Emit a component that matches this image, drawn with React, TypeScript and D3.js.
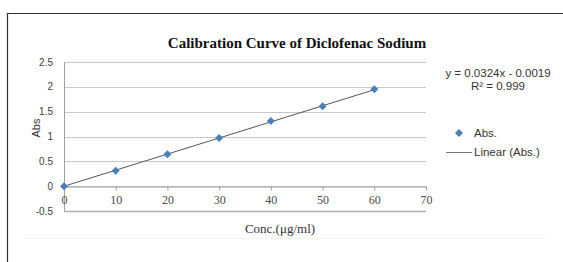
import React, { useRef, useEffect } from "react";
import * as d3 from "d3";

const concentrations = [0, 10, 20, 30, 40, 50, 60];
const absorbances = [0, 0.31, 0.645, 0.97, 1.31, 1.61, 1.95];
const xTicks = [0, 10, 20, 30, 40, 50, 60, 70];
const yTicks = [-0.5, 0, 0.5, 1, 1.5, 2, 2.5];
const slope = 0.0324;
const intercept = -0.0019;

const W = 563;
const H = 262;

const App: React.FC = () => {
  const ref = useRef<SVGSVGElement | null>(null);

  useEffect(() => {
    const root = d3.select(ref.current);
    root.selectAll("*").remove();

    const sans = "'Liberation Sans', Arial, sans-serif";
    const serif = "'Liberation Serif', 'Times New Roman', serif";

    // outer frame (top + left only visible)
    root
      .append("path")
      .attr("d", `M7.5,${H} L7.5,13.5 L${W},13.5`)
      .attr("fill", "none")
      .attr("stroke", "#333")
      .attr("stroke-width", 1.2);
    root
      .append("line")
      .attr("x1", 25)
      .attr("x2", 545)
      .attr("y1", 238.5)
      .attr("y2", 238.5)
      .attr("stroke", "#f2f2f2");

    const x = d3.scaleLinear().domain([0, 70]).range([64, 426]);
    const y = d3.scaleLinear().domain([-0.5, 2.5]).range([211, 62]);

    // gridlines
    root
      .append("g")
      .selectAll("line")
      .data(yTicks)
      .enter()
      .append("line")
      .attr("x1", x(0))
      .attr("x2", x(70))
      .attr("y1", (d) => Math.round(y(d)) + 0.5)
      .attr("y2", (d) => Math.round(y(d)) + 0.5)
      .attr("stroke", (d) => (d === -0.5 ? "#b0b0b0" : "#c8c8c8"))
      .attr("stroke-width", (d) => (d === -0.5 ? 1.5 : 1));

    // y axis line
    root
      .append("line")
      .attr("x1", x(0) + 0.5)
      .attr("x2", x(0) + 0.5)
      .attr("y1", y(2.5))
      .attr("y2", y(-0.5))
      .attr("stroke", "#a0a0a0");

    // x axis at y=0 with ticks
    const xAxis = root
      .append("g")
      .attr("transform", `translate(0,${Math.round(y(0)) + 0.5})`)
      .call(
        d3
          .axisBottom(x)
          .tickValues(xTicks)
          .tickSize(4)
          .tickPadding(5)
          .tickFormat(d3.format("d")) as any,
      );
    xAxis.select(".domain").attr("stroke", "#a0a0a0");
    xAxis.selectAll("line").attr("stroke", "#a0a0a0");
    xAxis
      .selectAll("text")
      .attr("fill", "#4a4a4a")
      .style("font-family", serif)
      .style("font-size", "12px");

    // y tick labels
    root
      .append("g")
      .selectAll("text")
      .data(yTicks)
      .enter()
      .append("text")
      .attr("x", 53)
      .attr("y", (d) => y(d))
      .attr("dy", "0.35em")
      .attr("text-anchor", "end")
      .attr("fill", "#404040")
      .style("font-family", sans)
      .style("font-size", "10px")
      .text((d) => String(d));

    // trendline
    root
      .append("line")
      .attr("x1", x(0))
      .attr("y1", y(intercept))
      .attr("x2", x(60))
      .attr("y2", y(slope * 60 + intercept))
      .attr("stroke", "#555")
      .attr("stroke-width", 1);

    // markers: square rotated 45°
    const diamond = d3.symbol().type(d3.symbolSquare).size(32);
    root
      .append("g")
      .selectAll("path")
      .data(concentrations)
      .enter()
      .append("path")
      .attr("d", diamond)
      .attr("transform", (d, i) => `translate(${x(d)},${y(absorbances[i])}) rotate(45)`)
      .attr("fill", "#4a7ebb");

    // title
    root
      .append("text")
      .attr("x", 297)
      .attr("y", 48)
      .attr("text-anchor", "middle")
      .attr("fill", "#111")
      .style("font-family", serif)
      .style("font-weight", "bold")
      .style("font-size", "15px")
      .text("Calibration Curve of Diclofenac Sodium");

    // axis titles
    root
      .append("text")
      .attr("transform", "translate(40,128) rotate(-90)")
      .attr("text-anchor", "middle")
      .attr("fill", "#333")
      .style("font-family", sans)
      .style("font-size", "11px")
      .text("Abs");
    root
      .append("text")
      .attr("x", 280)
      .attr("y", 233)
      .attr("text-anchor", "middle")
      .attr("fill", "#333")
      .style("font-family", serif)
      .style("font-size", "13px")
      .text("Conc.(μg/ml)");

    // equation
    const eq = root
      .append("g")
      .style("font-family", sans)
      .style("font-size", "11.5px")
      .attr("fill", "#333")
      .attr("text-anchor", "middle");
    eq.append("text").attr("x", 498).attr("y", 77).text("y = 0.0324x - 0.0019");
    eq.append("text").attr("x", 498).attr("y", 90).text("R² = 0.999");

    // legend
    root
      .append("path")
      .attr("d", diamond)
      .attr("transform", "translate(459,133) rotate(45)")
      .attr("fill", "#4a7ebb");
    root
      .append("line")
      .attr("x1", 446)
      .attr("x2", 472)
      .attr("y1", 152.5)
      .attr("y2", 152.5)
      .attr("stroke", "#777");
    const lg = root
      .append("g")
      .style("font-family", sans)
      .style("font-size", "11.5px")
      .attr("fill", "#333");
    lg.append("text").attr("x", 474).attr("y", 137).text("Abs.");
    lg.append("text").attr("x", 474).attr("y", 156).text("Linear (Abs.)");
  }, []);

  return (
    <svg
      ref={ref}
      width={W}
      height={H}
      style={{ position: "absolute", left: 0, top: 0, background: "#fff" }}
    />
  );
};

export default App;
